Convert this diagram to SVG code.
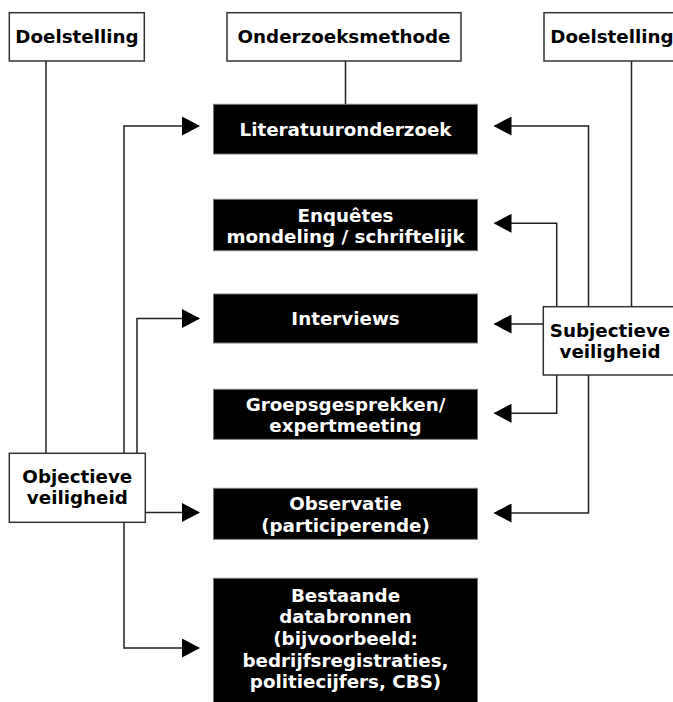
<svg xmlns="http://www.w3.org/2000/svg" width="673" height="702" viewBox="0 0 673 702">
<style>
text{font-family:"DejaVu Sans","Verdana",sans-serif;font-weight:bold;font-size:18.3px;text-anchor:middle}
.wb{fill:#fff;stroke:#333;stroke-width:1.5}
.bb{fill:#000;stroke:#777;stroke-width:1}
.wt{fill:#000}
.bt{fill:#fff}
.ln{fill:none;stroke:#222;stroke-width:1.5}
</style>
<defs>
<marker id="ah" viewBox="0 0 18 19" refX="17" refY="9.5" markerWidth="18" markerHeight="19" markerUnits="userSpaceOnUse" orient="auto">
<path d="M0,0 L18,9.5 L0,19 Z" fill="#000"/>
</marker>
</defs>
<rect width="673" height="702" fill="#fff"/>
<g id="connectors">
<path class="ln" d="M46,61 V453"/>
<path class="ln" d="M345.5,61 V104"/>
<path class="ln" d="M631.5,61 V307"/>
<path class="ln" d="M124,453 V126 H199" marker-end="url(#ah)"/>
<path class="ln" d="M137,453 V318.5 H199" marker-end="url(#ah)"/>
<path class="ln" d="M145.3,512.5 H199" marker-end="url(#ah)"/>
<path class="ln" d="M124,522.3 V648 H199" marker-end="url(#ah)"/>
<path class="ln" d="M588.5,307 V126 H494.5" marker-end="url(#ah)"/>
<path class="ln" d="M556.7,307 V223.3 H494.5" marker-end="url(#ah)"/>
<path class="ln" d="M543.3,324 H494.5" marker-end="url(#ah)"/>
<path class="ln" d="M556.7,375 V413.3 H494.5" marker-end="url(#ah)"/>
<path class="ln" d="M588.5,375 V513 H494.5" marker-end="url(#ah)"/>
</g>
<g id="doel-links"><rect class="wb" x="9.3" y="12.7" width="135" height="48.3"/><text class="wt" x="77" y="43">Doelstelling</text></g>
<g id="onderzoeksmethode"><rect class="wb" x="227" y="12.7" width="234" height="48.3"/><text class="wt" x="344" y="43">Onderzoeksmethode</text></g>
<g id="doel-rechts"><rect class="wb" x="544" y="12.7" width="135" height="48.3"/><text class="wt" x="612" y="43">Doelstelling</text></g>
<g id="literatuur"><rect class="bb" x="213.5" y="104.3" width="264" height="49.7"/><text class="bt" x="345.5" y="135.5">Literatuuronderzoek</text></g>
<g id="enquetes"><rect class="bb" x="213.5" y="199.3" width="264" height="51.4"/><text class="bt" x="345.5" y="221.5">Enquêtes</text><text class="bt" x="345.5" y="243.2">mondeling / schriftelijk</text></g>
<g id="interviews"><rect class="bb" x="213.5" y="294" width="264" height="49"/><text class="bt" x="345.5" y="325">Interviews</text></g>
<g id="groeps"><rect class="bb" x="213.5" y="389.3" width="264" height="50"/><text class="bt" x="345.5" y="410.5">Groepsgesprekken/</text><text class="bt" x="345.5" y="432.2">expertmeeting</text></g>
<g id="observatie"><rect class="bb" x="213.5" y="488.3" width="264" height="51"/><text class="bt" x="345.5" y="510">Observatie</text><text class="bt" x="345.5" y="531.6">(participerende)</text></g>
<g id="bestaande"><rect class="bb" x="213.5" y="578.3" width="264" height="130"/><text class="bt" x="345.5" y="601.7">Bestaande</text><text class="bt" x="345.5" y="623.3">databronnen</text><text class="bt" x="345.5" y="644.9">(bijvoorbeeld:</text><text class="bt" x="345.5" y="666.5">bedrijfsregistraties,</text><text class="bt" x="345.5" y="688.1">politiecijfers, CBS)</text></g>
<g id="objectieve"><rect class="wb" x="9.3" y="453.3" width="136" height="69"/><text class="wt" x="77.3" y="483.3">Objectieve</text><text class="wt" x="77.3" y="504.3">veiligheid</text></g>
<g id="subjectieve"><rect class="wb" x="543.3" y="306.7" width="135" height="68.3"/><text class="wt" x="610" y="336.5">Subjectieve</text><text class="wt" x="610" y="358.3">veiligheid</text></g>
</svg>
